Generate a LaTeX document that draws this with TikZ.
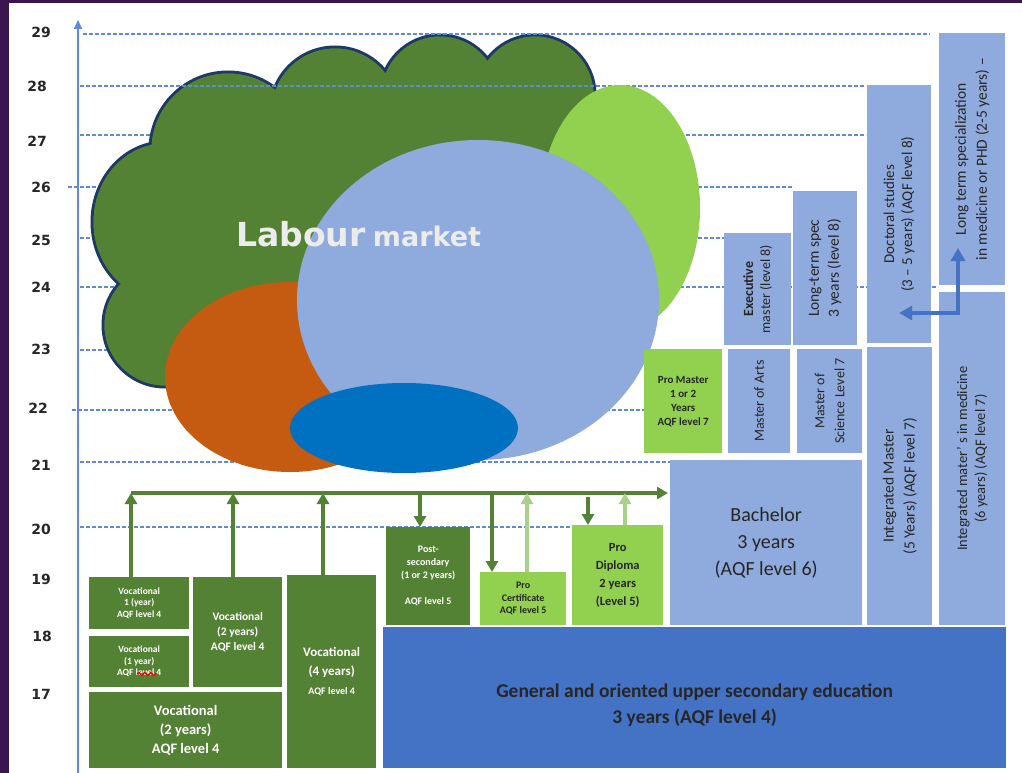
\documentclass[tikz,border=0pt]{standalone}
\usepackage{fontspec}
\setmainfont{Carlito}
\newfontfamily\verdana{DejaVu Sans}
\usepackage{tikz}
\usetikzlibrary{positioning, arrows.meta, decorations.pathmorphing}

\definecolor{bgpurple}{HTML}{3A1550}
\definecolor{vgreen}{HTML}{548235}
\definecolor{pgreen}{HTML}{92D050}
\definecolor{palegreen}{HTML}{A9D18E}
\definecolor{lblue}{HTML}{8FAADC}
\definecolor{gblue}{HTML}{4472C4}
\definecolor{mblue}{HTML}{0070C0}
\definecolor{rust}{HTML}{C55A11}
\definecolor{cloudline}{HTML}{203864}
\definecolor{txtdark}{HTML}{262626}
\definecolor{axisblue}{HTML}{5A8AD8}
\definecolor{labourtxt}{HTML}{ECECEC}

\tikzstyle{box} = [rectangle, anchor=north west, inner sep=0pt, align=center]
\tikzstyle{vocbox} = [box, fill=vgreen, text=white]
\tikzstyle{probox} = [box, fill=pgreen, text=txtdark]
\tikzstyle{unibox} = [box, fill=lblue, text=txtdark]
\tikzstyle{sidetext} = [rotate=90, align=center, text=txtdark, inner sep=0pt]
\tikzstyle{gridline} = [axisblue, line width=1.3pt, dash pattern=on 3.5pt off 2.5pt]
\tikzstyle{yearlabel} = [font=\verdana\bfseries\fontsize{14}{14}\selectfont, text=black!85]
\tikzstyle{busarrow} = [line width=3.5pt, vgreen, -{Triangle[length=11pt,width=12pt]}]
\tikzstyle{lightarrow} = [line width=3.5pt, palegreen, -{Triangle[length=11pt,width=12pt]}]
\tikzstyle{docarrow} = [line width=4.5pt, gblue, {Triangle[length=13pt,width=14pt]}-{Triangle[length=13pt,width=14pt]}]

\begin{document}
\begin{tikzpicture}[x=1pt,y=-1pt]
  \useasboundingbox (0,0) rectangle (1022,773);
  \fill[bgpurple] (0,0) rectangle (1022,773);
  \fill[white] (9,3) rectangle (1022,773);

  % grid lines under the cloud
  \draw[gridline] (80,135) -- (866,135);
  \draw[gridline] (68,187) -- (792,187);
  \draw[gridline] (80,238) -- (724,238);
  \draw[gridline] (80,287) -- (938,287);
  \draw[gridline] (80,350) -- (644,350);
  \draw[gridline] (72,410) -- (644,410);
  \draw[gridline] (80,462) -- (670,462);
  \draw[gridline] (80,527) -- (572,527);

  % cloud
  \path[draw=cloudline, line width=3pt, fill=vgreen]
    (228,150) circle[radius=78]
    (335,112) circle[radius=65]
    (440,95) circle[radius=60]
    (535,95) circle[radius=60]
    (580,170) circle[radius=60]
    (580,280) circle[radius=50]
    (165,222) ellipse[x radius=73, y radius=80]
    (165,325) circle[radius=62];
  \fill[vgreen]
    (228,150) circle[radius=76.5]
    (335,112) circle[radius=63.5]
    (440,95) circle[radius=58.5]
    (535,95) circle[radius=58.5]
    (580,170) circle[radius=58.5]
    (580,280) circle[radius=48.5]
    (165,222) ellipse[x radius=71.5, y radius=78.5]
    (165,325) circle[radius=60.5]
    (228,150) -- (335,112) -- (440,95) -- (535,95) -- (580,170) -- (580,280)
      -- (400,300) -- (220,360) -- (165,325) -- (165,222) -- cycle;

  \draw[gridline] (83,34) -- (930,34);
  \draw[gridline] (80,86) -- (866,86);

  % market bubbles
  \fill[pgreen] (620,208) ellipse[x radius=80, y radius=123];
  \fill[rust] (290,377) ellipse[x radius=125, y radius=95];
  \fill[lblue] (478,300) ellipse[x radius=181, y radius=160];
  \fill[mblue] (404,428) ellipse[x radius=114, y radius=45];

  \node[font=\verdana\bfseries\fontsize{33}{33}\selectfont, text=labourtxt, anchor=base west, inner sep=0pt] (labour) at (236,246) {Labour};
  \node[font=\verdana\bfseries\fontsize{27}{27}\selectfont, text=labourtxt, inner sep=0pt, right=7pt of labour.base east, anchor=base west] (market) {market};

  % axis
  \coordinate (axisbot) at (78,773);
  \coordinate (axistop) at (78,20);
  \draw[axisblue, line width=2pt, -{Triangle[length=9pt,width=8pt]}] (axisbot) -- (axistop);

  \node[yearlabel] (y29) at (41,32) {29};
  \node[yearlabel] (y28) at (37,86) {28};
  \node[yearlabel] (y27) at (37,141) {27};
  \node[yearlabel] (y26) at (41,187) {26};
  \node[yearlabel] (y25) at (41,240) {25};
  \node[yearlabel] (y24) at (41,287) {24};
  \node[yearlabel] (y23) at (41,349) {23};
  \node[yearlabel] (y22) at (38,408) {22};
  \node[yearlabel] (y21) at (41,465) {21};
  \node[yearlabel] (y20) at (41,529) {20};
  \node[yearlabel] (y19) at (41,579) {19};
  \node[yearlabel] (y18) at (42,636) {18};
  \node[yearlabel] (y17) at (41,694) {17};

  % vocational track
  \node[vocbox, minimum width=100pt, minimum height=52pt, font=\bfseries\fontsize{9.5}{11.5}\selectfont] (voc1y) at (89,577) {Vocational\\1 (year)\\AQF level 4};
  \node[vocbox, minimum width=100pt, minimum height=51pt, font=\bfseries\fontsize{9.5}{11.5}\selectfont] (voc1yb) at (89,636) {Vocational\\(1 year)\\AQF level 4};
  \node[vocbox, minimum width=89pt, minimum height=110pt, font=\bfseries\fontsize{11.5}{15}\selectfont] (voc2ys) at (193,577) {Vocational\\(2 years)\\AQF level 4};
  \node[vocbox, minimum width=89pt, minimum height=193pt, font=\bfseries\fontsize{13}{19}\selectfont] (voc4y) at (287,575) {Vocational\\(4 years)\\{\fontsize{10}{12}\selectfont AQF level 4}};
  \node[vocbox, minimum width=193pt, minimum height=76pt, font=\bfseries\fontsize{14.5}{19}\selectfont] (voc2yl) at (89,692) {Vocational\\(2 years)\\AQF level 4};
  \draw[red, line width=1.3pt, decorate, decoration={snake, amplitude=1.6pt, segment length=6pt}] (137,674) -- (157,674);

  \node[box, fill=gblue, minimum width=623pt, minimum height=141pt] (general) at (383,627) {};
  \node[align=center, text=txtdark, font=\bfseries\fontsize{19.5}{26}\selectfont] (gentxt) at ([yshift=-7pt]general.center) {General and oriented upper secondary education\\3 years (AQF level 4)};

  % post-secondary and pro
  \node[vocbox, minimum width=84pt, minimum height=98pt, font=\bfseries\fontsize{10}{13}\selectfont] (postsec) at (386,527) {Post-\\secondary\\(1 or 2 years)\\[13pt]AQF level 5};
  \node[probox, minimum width=86pt, minimum height=53pt, font=\bfseries\fontsize{10}{12.5}\selectfont] (procert) at (480,572) {Pro\\Certificate\\AQF level 5};
  \node[probox, minimum width=91pt, minimum height=100pt, font=\bfseries\fontsize{12.5}{18}\selectfont] (prodip) at (572,525) {Pro\\Diploma\\2 years\\(Level 5)};
  \node[probox, minimum width=78pt, minimum height=104pt, font=\bfseries\fontsize{11}{14}\selectfont] (promaster) at (644,349) {Pro Master\\1 or 2\\Years\\AQF level 7};

  % higher education
  \node[unibox, minimum width=192pt, minimum height=165pt, font=\fontsize{20}{27}\selectfont] (bachelor) at (670,460) {Bachelor\\3 years\\(AQF level 6)};
  \node[unibox, minimum width=62pt, minimum height=104pt] (marts) at (728,349) {};
  \node[unibox, minimum width=65pt, minimum height=104pt] (msci) at (797,349) {};
  \node[unibox, minimum width=67pt, minimum height=112pt] (exec) at (724,233) {};
  \node[unibox, minimum width=64pt, minimum height=154pt] (ltspec) at (793,191) {};
  \node[unibox, minimum width=64pt, minimum height=258pt] (doctoral) at (867,85) {};
  \node[unibox, minimum width=66pt, minimum height=252pt] (ltmed) at (939,33) {};
  \node[unibox, minimum width=65pt, minimum height=278pt] (intmaster) at (867,347) {};
  \node[unibox, minimum width=66pt, minimum height=333pt] (intmed) at (939,292) {};

  \node[sidetext, font=\fontsize{14}{17}\selectfont] (martsT) at (marts.center) {Master of Arts};
  \node[sidetext, font=\fontsize{14}{20}\selectfont] (msciT) at (msci.center) {Master of\\Science Level 7};
  \node[sidetext, font=\fontsize{14}{17}\selectfont] (execT) at (exec.center) {{\bfseries Executive}\\master (level 8)};
  \node[sidetext, font=\fontsize{15.5}{20}\selectfont] (ltspecT) at (ltspec.center) {Long-term spec\\3 years (level 8)};
  \node[sidetext, font=\fontsize{15}{18}\selectfont] (doctoralT) at (doctoral.center) {Doctoral studies\\(3 – 5 years) (AQF level 8)};
  \node[sidetext, font=\fontsize{15.5}{21}\selectfont] (ltmedT) at (ltmed.center) {Long term specialization\\in medicine or PHD (2-5 years) –};
  \node[sidetext, font=\fontsize{15.5}{21}\selectfont] (intmasterT) at (intmaster.center) {Integrated Master\\(5 Years) (AQF level 7)};
  \node[sidetext, font=\fontsize{14.5}{18}\selectfont] (intmedT) at (intmed.center) {Integrated mater’ s in medicine\\(6 years) (AQF level 7)};

  \coordinate (kink) at (958,313);
  \coordinate (medtip) at (958,248);
  \draw[docarrow] (doctoral.center |- kink) -- (kink) -- (medtip);

  % pathways to the labour market
  \coordinate (busstart) at (131,493);
  \coordinate (busend) at (668,493);
  \coordinate (tapB) at (233,493);
  \coordinate (tapC) at (323,493);
  \coordinate (tapD) at (420,493);
  \coordinate (tapE) at (492,493);
  \coordinate (tapF) at (527,493);
  \coordinate (tapG) at (588,497);
  \coordinate (tapH) at (625,493);
  \draw[busarrow] (busstart) -- (busend);
  \draw[busarrow] (voc1y.north -| busstart) -- (busstart);
  \draw[busarrow] (voc2ys.north -| tapB) -- (tapB);
  \draw[busarrow] (voc4y.north -| tapC) -- (tapC);
  \draw[busarrow] (tapD) -- (postsec.north -| tapD);
  \draw[busarrow] (tapE) -- (procert.north -| tapE);
  \draw[lightarrow] (procert.north -| tapF) -- (tapF);
  \draw[busarrow] (tapG) -- (prodip.north -| tapG);
  \draw[lightarrow] (prodip.north -| tapH) -- (tapH);
\end{tikzpicture}
\end{document}
